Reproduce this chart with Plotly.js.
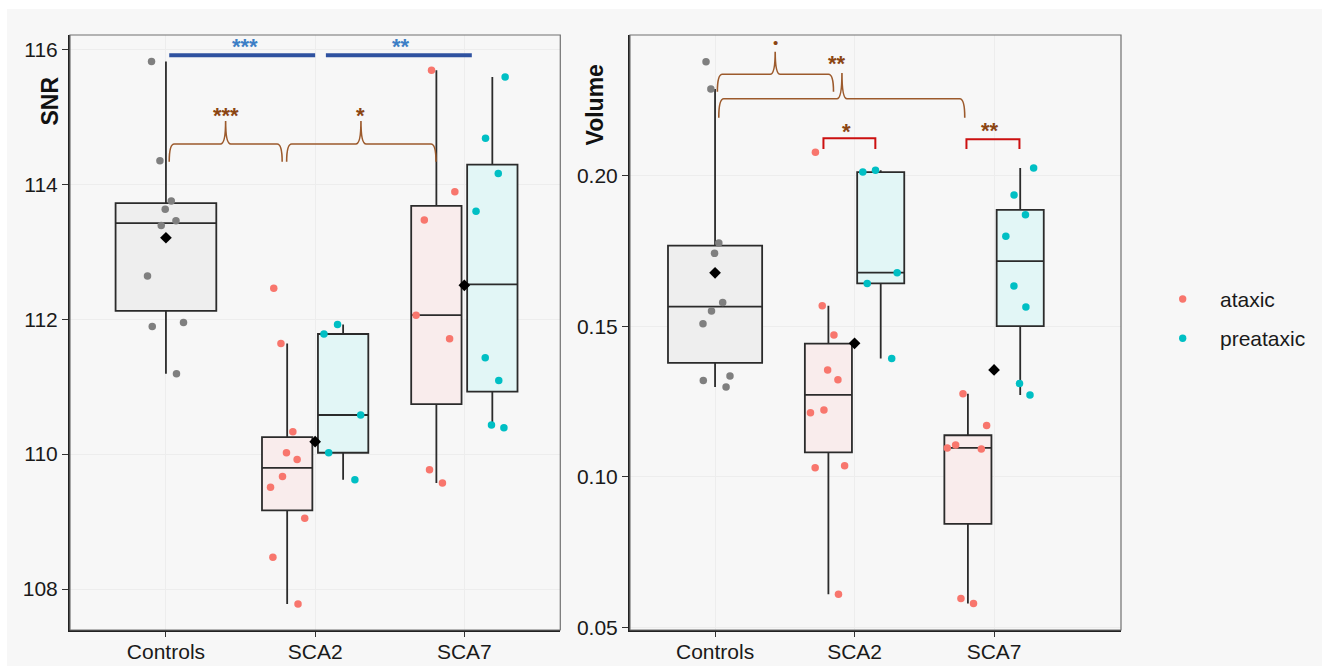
<!DOCTYPE html>
<html><head><meta charset="utf-8">
<script src="https://cdn.plot.ly/plotly-3.0.1.min.js"></script>
<style>html,body{margin:0;padding:0;background:#fff;} #chart{width:1322px;height:666px;}</style>
</head><body><div id="chart"></div>
<script>
const categories = ['Controls', 'SCA2', 'SCA7'];
const groups = ['ataxic', 'preataxic'];

// SNR values
const snrControls = [115.82, 114.35, 113.75, 113.63, 113.46, 113.39, 112.64, 111.95, 111.89, 111.19];
const snrSCA2Ataxic = [112.46, 111.64, 110.33, 110.02, 109.92, 109.67, 109.51, 109.05, 108.47, 107.78];
const snrSCA2Preataxic = [111.92, 111.78, 110.58, 110.02, 109.62];
const snrSCA7Ataxic = [115.69, 113.89, 113.47, 112.06, 111.71, 109.77, 109.57];
const snrSCA7Preataxic = [115.59, 114.68, 114.16, 113.60, 111.43, 111.09, 110.43, 110.39];

// Volume values
const volControls = [0.2378, 0.2288, 0.1776, 0.1742, 0.1579, 0.1551, 0.1508, 0.1335, 0.1320, 0.1298];
const volSCA2Ataxic = [0.2078, 0.1568, 0.1471, 0.1355, 0.1322, 0.1222, 0.1213, 0.1037, 0.1030, 0.0610];
const volSCA2Preataxic = [0.2018, 0.2012, 0.1678, 0.1642, 0.1393];
const volSCA7Ataxic = [0.1276, 0.1170, 0.1106, 0.1096, 0.1092, 0.0596, 0.0579];
const volSCA7Preataxic = [0.2025, 0.1936, 0.1870, 0.1799, 0.1634, 0.1564, 0.1310, 0.1272];

const snrTicks = [108, 110, 112, 114, 116];
const volTicks = [0.05, 0.10, 0.15, 0.20];
const volTickText = ['0.05', '0.10', '0.15', '0.20'];
const snrSignif = ['***', '**', '***', '*'];
const volSignif = ['•', '**', '*', '**'];

// ---- helpers ----
function q7(a, p) {
  const s = a.slice().sort((x, y) => x - y);
  const h = (s.length - 1) * p, lo = Math.floor(h), hi = Math.min(lo + 1, s.length - 1);
  return s[lo] + (h - lo) * (s[hi] - s[lo]);
}
function stats(a) {
  const q1 = q7(a, .25), med = q7(a, .5), q3 = q7(a, .75), iqr = q3 - q1;
  const inside = a.filter(v => v >= q1 - 1.5 * iqr && v <= q3 + 1.5 * iqr);
  return {q1, med, q3, lo: Math.min(...inside), hi: Math.max(...inside)};
}
const mean = a => a.reduce((s, v) => s + v, 0) / a.length;

const COL = {ctrl: '#7f7f7f', ataxic: '#F8766D', preataxic: '#00BFC4'};
const FILL = {ctrl: 'rgb(238,238,238)', ataxic: 'rgb(249,236,236)', preataxic: 'rgb(226,246,246)'};
const DODGE = 0.1875, WFULL = 0.675, WHALF = 0.3375;
const FONT = 'Liberation Sans, Arial, sans-serif';

function boxTrace(samples, positions, width, fill, ptColor, jit, xa, ya) {
  const st = samples.map(stats);
  return {
    type: 'box', x: positions,
    q1: st.map(s => s.q1), median: st.map(s => s.med), q3: st.map(s => s.q3),
    lowerfence: st.map(s => s.lo), upperfence: st.map(s => s.hi),
    y: samples, boxpoints: 'all', jitter: jit, pointpos: 0,
    width: width, fillcolor: fill, line: {color: '#2b2b2b', width: 1.8}, whiskerwidth: 0,
    marker: {color: ptColor, size: 7.5, line: {width: 0}},
    xaxis: xa, yaxis: ya, showlegend: false, hoverinfo: 'skip'
  };
}
const ci = c => categories.indexOf(c);

function panelTraces(ctrl, a2, p2, a7, p7, xa, ya) {
  return [
    boxTrace([ctrl], [ci('Controls')], WFULL, FILL.ctrl, COL.ctrl, 0.45, xa, ya),
    boxTrace([a2, a7], [ci('SCA2') - DODGE, ci('SCA7') - DODGE], WHALF, FILL.ataxic, COL.ataxic, 0.9, xa, ya),
    boxTrace([p2, p7], [ci('SCA2') + DODGE, ci('SCA7') + DODGE], WHALF, FILL.preataxic, COL.preataxic, 0.9, xa, ya),
    {type: 'scatter', mode: 'markers', x: categories.map(ci),
     y: [mean(ctrl), mean(a2.concat(p2)), mean(a7.concat(p7))],
     marker: {symbol: 'diamond', size: 9, color: '#000'}, xaxis: xa, yaxis: ya,
     showlegend: false, hoverinfo: 'skip'}
  ];
}

const data = [
  ...panelTraces(snrControls, snrSCA2Ataxic, snrSCA2Preataxic, snrSCA7Ataxic, snrSCA7Preataxic, 'x', 'y'),
  ...panelTraces(volControls, volSCA2Ataxic, volSCA2Preataxic, volSCA7Ataxic, volSCA7Preataxic, 'x2', 'y2')
];

// ---- annotation shapes ----
function bracePath(x0, x1, xm, yTip, yBar, yPeak, r) {
  return `M ${x0},${yTip} Q ${x0},${yBar} ${x0 + r},${yBar} L ${xm - r},${yBar} Q ${xm},${yBar} ${xm},${yPeak} ` +
         `Q ${xm},${yBar} ${xm + r},${yBar} L ${x1 - r},${yBar} Q ${x1},${yBar} ${x1},${yTip}`;
}
const BROWN = '#9c5a2c', BROWN_TXT = '#8b4513', BLUE = '#2f52a0', BLUE_TXT = '#3d7fc6', RED = '#cc1010';
const shapes = [
  // page white strips
  {type: 'rect', xref: 'paper', yref: 'paper', x0: -0.07, x1: 1.2, y0: 1.0437, y1: 1.07, fillcolor: '#fff', line: {width: 0}, layer: 'below'},
  {type: 'rect', xref: 'paper', yref: 'paper', x0: -0.07, x1: -0.0599, y0: -0.07, y1: 1.07, fillcolor: '#fff', line: {width: 0}, layer: 'below'},
  // panel borders
  {type: 'rect', xref: 'paper', yref: 'paper', x0: 0, x1: 0.4665, y0: 0, y1: 1, line: {color: '#707070', width: 1.2}},
  {type: 'rect', xref: 'paper', yref: 'paper', x0: 0.5328, x1: 1, y0: 0, y1: 1, line: {color: '#707070', width: 1.2}},
  // SNR blue bars
  {type: 'line', xref: 'x', yref: 'y', x0: 0.022, x1: 1.0, y0: 115.911, y1: 115.911, line: {color: BLUE, width: 4}},
  {type: 'line', xref: 'x', yref: 'y', x0: 1.072, x1: 2.05, y0: 115.911, y1: 115.911, line: {color: BLUE, width: 4}},
  // SNR braces
  {type: 'path', xref: 'x', yref: 'y', path: bracePath(0.022, 0.779, 0.40, 114.335, 114.597, 114.938, 0.034), line: {color: BROWN, width: 1.6}},
  {type: 'path', xref: 'x', yref: 'y', path: bracePath(0.809, 1.81, 1.307, 114.335, 114.597, 114.938, 0.034), line: {color: BROWN, width: 1.6}},
  // Volume braces
  {type: 'path', xref: 'x2', yref: 'y2', path: bracePath(0.0165, 0.849, 0.431, 0.22788, 0.23365, 0.24115, 0.036), line: {color: BROWN, width: 1.6}},
  {type: 'path', xref: 'x2', yref: 'y2', path: bracePath(0.0266, 1.79, 0.9096, 0.21925, 0.22555, 0.23412, 0.036), line: {color: BROWN, width: 1.6}},
  // Volume red brackets
  {type: 'path', xref: 'x2', yref: 'y2', path: 'M 0.777,0.20886 L 0.777,0.21241 L 1.149,0.21241 L 1.149,0.20886', line: {color: RED, width: 2}},
  {type: 'path', xref: 'x2', yref: 'y2', path: 'M 1.802,0.20886 L 1.802,0.21208 L 2.182,0.21208 L 2.182,0.20886', line: {color: RED, width: 2}},
  // legend dots
  {type: 'circle', xref: 'paper', yref: 'paper', x0: 1.0587 - 0.0035, x1: 1.0587 + 0.0035, y0: 0.5563 - 0.0062, y1: 0.5563 + 0.0062, fillcolor: COL.ataxic, line: {width: 0}},
  {type: 'circle', xref: 'paper', yref: 'paper', x0: 1.0587 - 0.0035, x1: 1.0587 + 0.0035, y0: 0.4903 - 0.0062, y1: 0.4903 + 0.0062, fillcolor: COL.preataxic, line: {width: 0}}
];

function star(text, x, y, xref, yref, color) {
  return {text: '<b>' + text + '</b>', x: x, y: y, xref: xref, yref: yref, showarrow: false, yanchor: 'middle', yshift: -3,
          font: {family: FONT, size: 22, color: color}};
}
const annotations = [
  star(snrSignif[0], 0.531, 116.09, 'x', 'y', BLUE_TXT),
  star(snrSignif[1], 1.577, 116.09, 'x', 'y', BLUE_TXT),
  star(snrSignif[2], 0.40, 115.067, 'x', 'y', BROWN_TXT),
  star(snrSignif[3], 1.307, 115.067, 'x', 'y', BROWN_TXT),
  {text: volSignif[0], x: 0.431, y: 0.24414, xref: 'x2', yref: 'y2', showarrow: false, yanchor: 'middle', font: {family: FONT, size: 15, color: BROWN_TXT}},
  star(volSignif[1], 0.876, 0.2384, 'x2', 'y2', BROWN_TXT),
  star(volSignif[2], 0.945, 0.2155, 'x2', 'y2', BROWN_TXT),
  star(volSignif[3], 1.972, 0.21583, 'x2', 'y2', BROWN_TXT),
  // axis titles
  {text: '<b>SNR</b>', x: -0.0333, y: 0.9328, xref: 'paper', yref: 'paper', showarrow: false, textangle: -90,
   font: {family: FONT, size: 23, color: '#111'}},
  {text: '<b>Volume</b>', x: 0.4995, y: 0.9546, xref: 'paper', yref: 'paper', showarrow: false, textangle: -90,
   font: {family: FONT, size: 23, color: '#111'}},
  // legend labels
  {text: groups[0], x: 1.0923, y: 0.5563, xref: 'paper', yref: 'paper', xanchor: 'left', yanchor: 'middle', showarrow: false,
   font: {family: FONT, size: 21, color: '#1a1a1a'}},
  {text: groups[1], x: 1.0923, y: 0.4903, xref: 'paper', yref: 'paper', xanchor: 'left', yanchor: 'middle', showarrow: false,
   font: {family: FONT, size: 21, color: '#1a1a1a'}}
];

const xcommon = {
  tickvals: categories.map(ci), ticktext: categories, ticks: 'outside', ticklen: 5, tickcolor: '#333',
  showline: true, linecolor: '#222', linewidth: 2, showgrid: true, gridcolor: '#ededed', zeroline: false,
  ticklabelstandoff: -3,
  tickfont: {family: FONT, size: 21, color: '#1a1a1a'}, fixedrange: true
};
const ycommon = {
  ticks: 'outside', ticklen: 6, tickcolor: '#333', showline: true, linecolor: '#222', linewidth: 2,
  showgrid: true, gridcolor: '#ededed', zeroline: false,
  tickfont: {family: FONT, size: 21, color: '#1a1a1a'}, fixedrange: true
};

const layout = {
  width: 1322, height: 666,
  margin: {l: 70, r: 201, t: 35, b: 36},
  paper_bgcolor: '#f7f7f7', plot_bgcolor: '#f7f7f7',
  font: {family: FONT},
  showlegend: false, hovermode: false, boxmode: 'overlay',
  xaxis: Object.assign({}, xcommon, {domain: [0, 0.4665], range: [-0.643, 2.643], anchor: 'y'}),
  yaxis: Object.assign({}, ycommon, {domain: [0, 1], range: [107.393, 116.212], tickvals: snrTicks, anchor: 'x'}),
  xaxis2: Object.assign({}, xcommon, {domain: [0.5328, 1], range: [-0.61, 2.91], anchor: 'y2'}),
  yaxis2: Object.assign({}, ycommon, {domain: [0, 1], range: [0.04914, 0.2467], tickvals: volTicks, ticktext: volTickText, anchor: 'x2'}),
  shapes: shapes, annotations: annotations
};

Plotly.newPlot('chart', data, layout, {displayModeBar: false, staticPlot: true});
</script>
</body></html>
